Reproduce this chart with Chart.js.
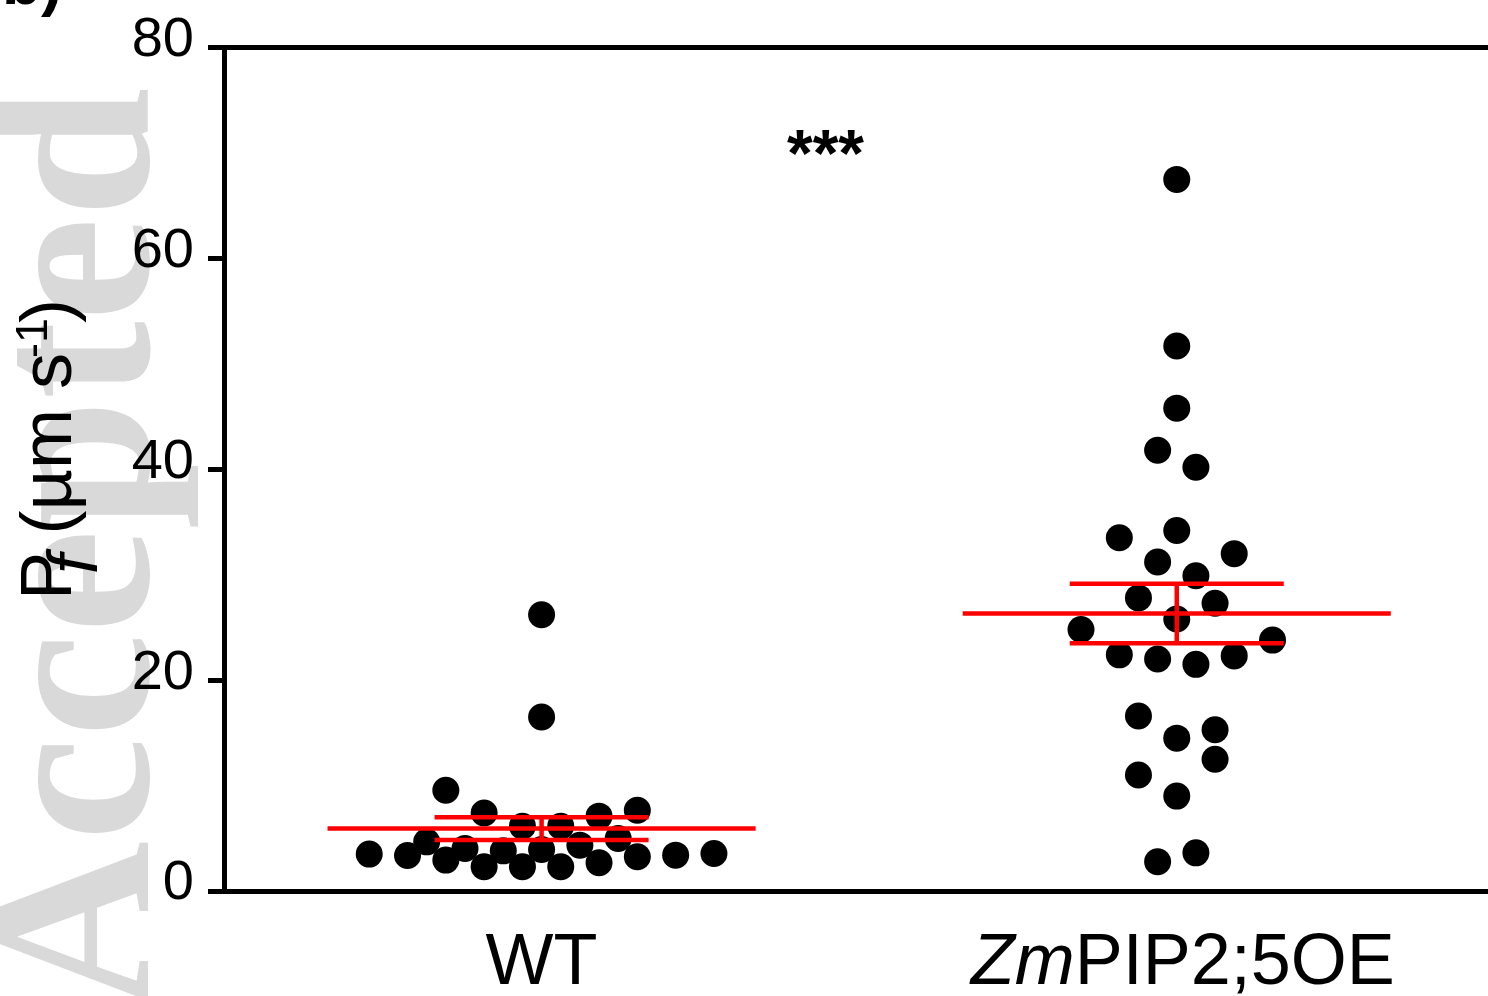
<!DOCTYPE html>
<html>
<head>
<meta charset="utf-8">
<script src="https://cdn.jsdelivr.net/npm/chart.js@4.4.1/dist/chart.umd.min.js"></script>
<style>
  html, body { margin: 0; padding: 0; background: #fff; overflow: hidden; }
  #wrap { width: 1488px; height: 996px; }
</style>
</head>
<body>
<div id="wrap"><canvas id="pfChart"></canvas></div>
<script>
// groups along x (position 1 and 2)
const groups = ["WT", "ZmPIP2;5OE"];

// Pf of single cells, µm s-1
const wtValues = [26.2, 16.5, 9.55, 7.4, 6.15, 6.15, 7.1, 7.66, 4.66, 4.03, 3.81, 3.94,
  4.35, 4.98, 3.5, 3.37, 2.93, 2.3, 2.3, 2.3, 2.68, 3.25, 3.4, 3.56];
// sideways spread of each dot, in dot widths from the group centre
const wtSpread = [0, 0, -2.5, -1.5, -0.5, 0.5, 1.5, 2.5, -3, -2, -1, 0,
  1, 2, -4.5, -3.5, -2.5, -1.5, -0.5, 0.5, 1.5, 2.5, 3.5, 4.5];

const oeValues = [67.5, 51.7, 45.8, 41.8, 40.2, 33.5, 34.2, 32.0, 31.2, 29.9, 27.8, 27.3,
  25.8, 24.8, 23.8, 22.4, 22.0, 21.5, 22.3, 16.6, 14.5, 15.3, 12.5, 11.0, 9.0, 2.77, 3.62];
const oeSpread = [0, 0, 0, -0.5, 0.5, -1.5, 0, 1.5, -0.5, 0.5, -1, 1,
  0, -2.5, 2.5, -1.5, -0.5, 0.5, 1.5, -1, 0, 1, 1, -1, 0, -0.5, 0.5];

const yTicks = [0, 20, 40, 60, 80];
const signifText = "***";

const DOT_STEP = 0.0603;   // one dot width in x units
const MEAN_HALF = 0.337;   // half length of the mean bar
const SEM_HALF = 0.1685;   // half length of the SEM caps
const SIG_POS = { x: 1.447, y: 71 };
const SANS = '"Liberation Sans", Arial, sans-serif';
const SERIF = '"Liberation Serif", "Times New Roman", serif';

function mean(a) { return a.reduce((s, v) => s + v, 0) / a.length; }
function sem(a) {
  const m = mean(a);
  const v = a.reduce((s, x) => s + (x - m) * (x - m), 0) / (a.length - 1);
  return Math.sqrt(v / a.length);
}

function dots(values, spread, g) {
  return values.map((v, i) => ({ x: g + spread[i] * DOT_STEP, y: v }));
}

function redLine(pts) {
  return {
    type: "scatter", data: pts, showLine: true, borderColor: "#ff0000",
    borderWidth: 4.5, pointRadius: 0, pointHoverRadius: 0, order: 1
  };
}

// mean +- SEM marks for one group
function statSets(values, g) {
  const m = mean(values), s = sem(values);
  return [
    redLine([{ x: g - MEAN_HALF, y: m }, { x: g + MEAN_HALF, y: m }]),
    redLine([{ x: g - SEM_HALF, y: m + s }, { x: g + SEM_HALF, y: m + s }]),
    redLine([{ x: g - SEM_HALF, y: m - s }, { x: g + SEM_HALF, y: m - s }]),
    redLine([{ x: g, y: m - s }, { x: g, y: m + s }])
  ];
}

const dotStyle = {
  type: "scatter", pointRadius: 13.5, pointHoverRadius: 13.5,
  backgroundColor: "#000", borderWidth: 0, order: 2
};

// white page + grey stamp behind everything
const backdrop = {
  id: "backdrop",
  beforeDraw(chart) {
    const ctx = chart.ctx;
    ctx.save();
    ctx.fillStyle = "#fff";
    ctx.fillRect(0, 0, chart.width, chart.height);
    ctx.translate(148, 1010);
    ctx.rotate(-Math.PI / 2);
    ctx.font = "bold 234px " + SERIF;
    ctx.fillStyle = "#d9d9d9";
    ctx.textBaseline = "alphabetic";
    ctx.fillText("Accepted", 0, 0);
    ctx.restore();
  }
};

const decorations = {
  id: "decorations",
  afterDraw(chart) {
    const ctx = chart.ctx;
    const area = chart.chartArea;
    const xs = chart.scales.x, ys = chart.scales.y;
    ctx.save();

    // top frame line
    ctx.strokeStyle = "#000";
    ctx.lineWidth = 5;
    ctx.beginPath();
    ctx.moveTo(area.left - 2.5, area.top);
    ctx.lineTo(area.right, area.top);
    ctx.stroke();

    ctx.fillStyle = "#000";
    ctx.textBaseline = "alphabetic";

    // group names
    const base = 984;
    ctx.textAlign = "left";
    ctx.font = "72px " + SANS;
    let w = ctx.measureText(groups[0]).width;
    ctx.fillText(groups[0], xs.getPixelForValue(1) - w / 2, base);

    const it = groups[1].slice(0, 2), rest = groups[1].slice(2);
    ctx.font = "italic 72px " + SANS;
    const w1 = ctx.measureText(it).width;
    ctx.font = "72px " + SANS;
    const w2 = ctx.measureText(rest).width;
    let x0 = xs.getPixelForValue(2) - (w1 + w2) / 2 + 6;
    ctx.font = "italic 72px " + SANS;
    ctx.fillText(it, x0, base);
    ctx.font = "72px " + SANS;
    ctx.fillText(rest, x0 + w1, base);

    // significance stars
    ctx.font = "bold 66px " + SANS;
    const mt = ctx.measureText(signifText);
    const cy = ys.getPixelForValue(SIG_POS.y);
    const off = (mt.actualBoundingBoxAscent - mt.actualBoundingBoxDescent) / 2;
    ctx.fillText(signifText, xs.getPixelForValue(SIG_POS.x) - mt.width / 2, cy + off);

    // y title: Pf (µm s-1)
    ctx.save();
    ctx.translate(70.7, 600);
    ctx.rotate(-Math.PI / 2);
    let x = 0;
    ctx.font = "72px " + SANS;
    ctx.fillText("P", x, 0);
    x += 26;
    ctx.font = "italic 70px " + SANS;
    ctx.fillText("f", x, 26);
    x += ctx.measureText("f").width;
    ctx.font = "72px " + SANS;
    ctx.fillText(" (\u00b5m s", x, 0);
    x += ctx.measureText(" (\u00b5m s").width - 5;
    ctx.font = "45px " + SANS;
    ctx.fillText("-1", x, -24);
    x += ctx.measureText("-1").width - 5;
    ctx.font = "72px " + SANS;
    ctx.fillText(")", x, 0);
    ctx.restore();

    // panel letter, cut by the top edge
    ctx.font = "bold 64px " + SANS;
    ctx.fillText("b)", 2, 4);

    ctx.restore();
  }
};

new Chart(document.getElementById("pfChart"), {
  type: "scatter",
  data: {
    datasets: [
      Object.assign({ label: groups[0], data: dots(wtValues, wtSpread, 1) }, dotStyle),
      Object.assign({ label: groups[1], data: dots(oeValues, oeSpread, 2) }, dotStyle),
      ...statSets(wtValues, 1),
      ...statSets(oeValues, 2)
    ]
  },
  options: {
    responsive: true,
    maintainAspectRatio: false,
    animation: false,
    layout: { autoPadding: false, padding: { top: 45, right: 0, left: 0, bottom: 0 } },
    plugins: { legend: { display: false }, tooltip: { enabled: false } },
    scales: {
      x: {
        type: "linear", min: 0.5, max: 2.49,
        ticks: { display: false },
        grid: { display: false },
        border: { display: true, width: 5, color: "#000" },
        afterFit(s) { s.height = 105; }
      },
      y: {
        min: 0, max: 80,
        afterBuildTicks(s) { s.ticks = yTicks.map(v => ({ value: v })); },
        ticks: { font: { size: 56, family: SANS }, color: "#000", padding: 14, labelOffset: -7 },
        grid: { drawOnChartArea: false, drawTicks: true, tickLength: 16, lineWidth: 5, color: "#000" },
        border: { display: true, width: 5, color: "#000" },
        afterFit(s) { s.width = 224; }
      }
    }
  },
  plugins: [backdrop, decorations]
});
</script>
</body>
</html>
